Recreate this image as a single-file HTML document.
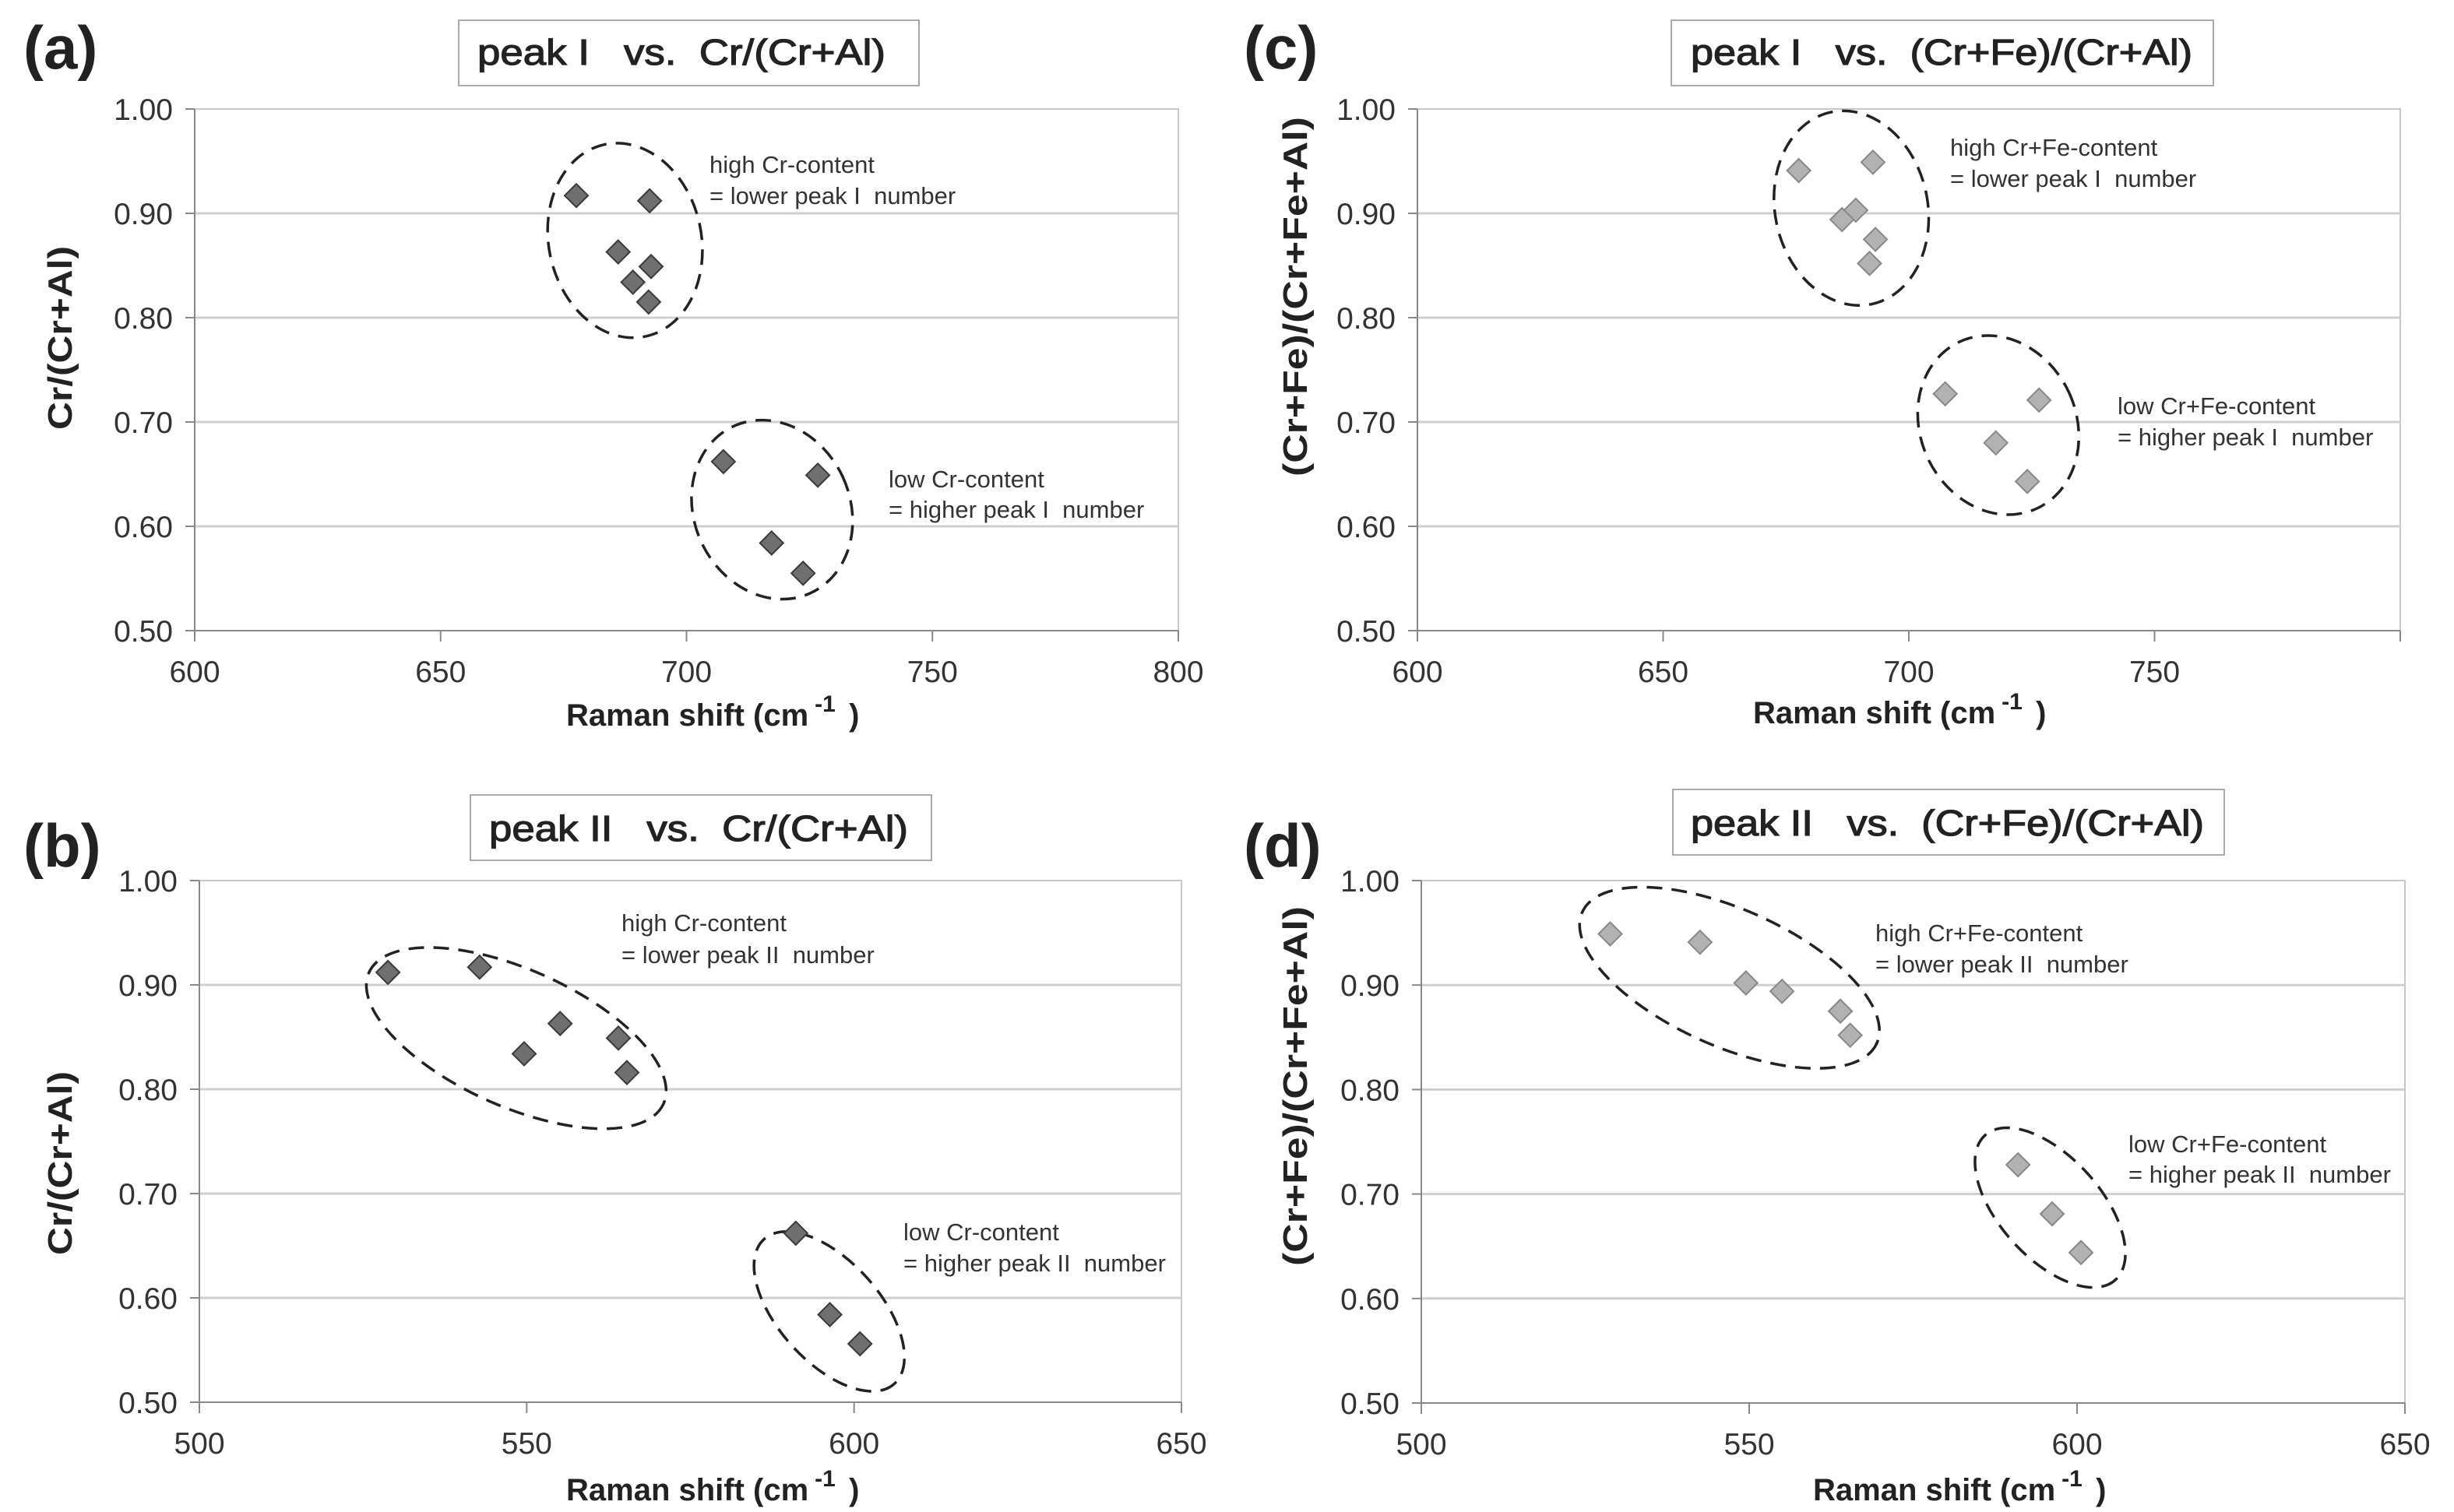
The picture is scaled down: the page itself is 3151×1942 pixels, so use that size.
<!DOCTYPE html>
<html><head><meta charset="utf-8"><style>
html,body{margin:0;padding:0;background:#fff;}
svg{display:block;font-family:"Liberation Sans",sans-serif;}
svg text{white-space:pre;}
</style></head>
<body>
<svg id="fig" width="3151" height="1942" viewBox="0 0 3151 1942" xmlns="http://www.w3.org/2000/svg"></svg>
<script>
// ---- data ----
const yTicks = [0.5, 0.6, 0.7, 0.8, 0.9, 1.0];
const yTickLabels = ["0.50","0.60","0.70","0.80","0.90","1.00"];
const xTicksPeakI = [600, 650, 700, 750, 800];
const xTickLabelsA = ["600","650","700","750","800"];
const xTickLabelsC = ["600","650","700","750",""];
const xTicksPeakII = [500, 550, 600, 650];
const xTickLabelsPeakII = ["500","550","600","650"];

const peakI_A  = [677.6, 692.5, 686.1, 692.8, 689.1, 692.3, 707.5, 726.7, 717.3, 723.7];
const crRatio  = [0.917, 0.912, 0.863, 0.849, 0.834, 0.815, 0.662, 0.649, 0.584, 0.555];
const peakII_B = [528.8, 542.8, 555.1, 564.0, 549.6, 565.3, 591.1, 596.3, 600.9];
const crRatioB = [0.912, 0.917, 0.863, 0.849, 0.834, 0.816, 0.662, 0.584, 0.556];
const peakI_C  = [677.6, 692.7, 689.2, 686.4, 693.2, 692.0, 707.4, 726.5, 717.7, 724.1];
const crFeRatioC = [0.941, 0.949, 0.903, 0.894, 0.875, 0.852, 0.727, 0.721, 0.680, 0.643];
const peakII_D = [528.8, 542.5, 549.5, 555.0, 563.9, 565.4, 591.0, 596.2, 600.6];
const crFeRatioD = [0.949, 0.941, 0.902, 0.894, 0.875, 0.852, 0.728, 0.681, 0.644];

// ---- layout ----
const NS = "http://www.w3.org/2000/svg";
const svg = document.getElementById("fig");
function mk(tag, attrs, parent) {
  const e = document.createElementNS(NS, tag);
  for (const k in attrs) e.setAttribute(k, attrs[k]);
  (parent || svg).appendChild(e);
  return e;
}

const panels = [
  {id:"a", L:250, R:1513, T:140, B:810, xmin:600, xmax:800, xt:xTicksPeakI, xl:xTickLabelsA, xs:peakI_A, ys:crRatio,
   fill:"#6f6f6f", stroke:"#3a3a3a", label:"(a)", lx:30, ly:88,
   box:[589,26,591,84], title:"peak I   vs.  Cr/(Cr+Al)", tx:613, ty:83, tl:524,
   ytitle:"Cr/(Cr+Al)", ytx:92, yty:434, ytl:236,
   xtitle:"Raman shift (cm", xtx:727, xty:932,
   ann:[["high Cr-content","= lower peak I  number",911,222,262],["low Cr-content","= higher peak I  number",1141,626,665]],
   ell:[[687.5,0.874,98,126,-12],[717.4,0.616,100,118,-25]]},
  {id:"b", L:256, R:1517, T:1131, B:1801, xmin:500, xmax:650, xt:xTicksPeakII, xl:xTickLabelsPeakII, xs:peakII_B, ys:crRatioB,
   fill:"#6f6f6f", stroke:"#3a3a3a", label:"(b)", lx:30, ly:1113,
   box:[604,1021,592,84], title:"peak II   vs.  Cr/(Cr+Al)", tx:628, ty:1080, tl:538,
   ytitle:"Cr/(Cr+Al)", ytx:92, yty:1494, ytl:236,
   xtitle:"Raman shift (cm", xtx:727, xty:1927,
   ann:[["high Cr-content","= lower peak II  number",798,1196,1237],["low Cr-content","= higher peak II  number",1160,1593,1633]],
   ell:[[548.4,0.849,207,88,24],[596.2,0.587,125,65,48]]},
  {id:"c", L:1820, R:3082, T:140, B:810, xmin:600, xmax:800, xt:xTicksPeakI, xl:xTickLabelsC, xs:peakI_C, ys:crFeRatioC,
   fill:"#b2b2b2", stroke:"#888", label:"(c)", lx:1597, ly:88,
   box:[2146,26,696,84], title:"peak I   vs.  (Cr+Fe)/(Cr+Al)", tx:2171, ty:83, tl:644,
   ytitle:"(Cr+Fe)/(Cr+Fe+Al)", ytx:1678, yty:381, ytl:462,
   xtitle:"Raman shift (cm", xtx:2251, xty:929,
   ann:[["high Cr+Fe-content","= lower peak I  number",2504,200,240],["low Cr+Fe-content","= higher peak I  number",2719,532,572]],
   ell:[[688.3,0.905,98,126,-12],[718.2,0.697,100,118,-25]]},
  {id:"d", L:1825, R:3088, T:1131, B:1802, xmin:500, xmax:650, xt:xTicksPeakII, xl:xTickLabelsPeakII, xs:peakII_D, ys:crFeRatioD,
   fill:"#b2b2b2", stroke:"#888", label:"(d)", lx:1597, ly:1113,
   box:[2148,1014,708,84], title:"peak II   vs.  (Cr+Fe)/(Cr+Al)", tx:2171, ty:1073, tl:659,
   ytitle:"(Cr+Fe)/(Cr+Fe+Al)", ytx:1678, yty:1395, ytl:462,
   xtitle:"Raman shift (cm", xtx:2328, xty:1927,
   ann:[["high Cr+Fe-content","= lower peak II  number",2408,1209,1249],["low Cr+Fe-content","= higher peak II  number",2733,1480,1519]],
   ell:[[547.0,0.907,207,88,24],[595.9,0.687,125,65,48]]}
];

panels.forEach(p => {
  const g = mk("g", {});
  
  
  const sx = v => p.L + (v - p.xmin) / (p.xmax - p.xmin) * (p.R - p.L);
  const sy = v => p.B - (v - 0.5) / 0.5 * (p.B - p.T);

  const lab = mk("text", {x:p.lx, y:p.ly, "font-size":78, "font-weight":"bold", fill:"#222"}, g);
  lab.textContent = p.label;
  
  

  const tb = mk("rect", {x:p.box[0], y:p.box[1], width:p.box[2], height:p.box[3], fill:"#fff", stroke:"#aaa", "stroke-width":2}, g);
  
  
  const tt = mk("text", {x:p.tx, y:p.ty, "font-size":46, fill:"#222", stroke:"#222", "stroke-width":1.2, textLength:p.tl, lengthAdjust:"spacingAndGlyphs"}, g);
  tt.textContent = p.title;
  
  

  const fr = mk("rect", {x:p.L, y:p.T, width:p.R - p.L, height:p.B - p.T, fill:"none", stroke:"#c8c8c8", "stroke-width":2}, g);
  
  

  yTicks.forEach((v, i) => {
    const y = sy(v);
    if (v > 0.5 && v < 1.0) {
      const gl = mk("line", {x1:p.L, x2:p.R, y1:y, y2:y, stroke:"#cfcfcf", "stroke-width":3}, g);
      
      
    }
    const tk = mk("line", {x1:p.L - 12, x2:p.L, y1:y, y2:y, stroke:"#888", "stroke-width":2}, g);
    
    
    const tl = mk("text", {x:p.L - 28, y:y + 14, "font-size":39, fill:"#333", "text-anchor":"end"}, g);
    tl.textContent = yTickLabels[i];
    
    
  });
  p.xt.forEach((v, i) => {
    const x = sx(v);
    const tk = mk("line", {x1:x, x2:x, y1:p.B, y2:p.B + 14, stroke:"#888", "stroke-width":2}, g);
    
    
    const tl = mk("text", {x:x, y:p.B + 66, "font-size":39, fill:"#333", "text-anchor":"middle"}, g);
    tl.textContent = p.xl[i];
    
    
  });
  const ya = mk("line", {x1:p.L, x2:p.L, y1:p.T, y2:p.B, stroke:"#888", "stroke-width":2}, g);
  
  
  const xa = mk("line", {x1:p.L, x2:p.R, y1:p.B, y2:p.B, stroke:"#888", "stroke-width":2}, g);
  
  

  const yt = mk("text", {x:0, y:0, "font-size":44, "font-weight":"bold", fill:"#222", "text-anchor":"middle",
    textLength:p.ytl, lengthAdjust:"spacingAndGlyphs", transform:`translate(${p.ytx},${p.yty}) rotate(-90)`}, g);
  yt.textContent = p.ytitle;
  
  
  const xt = mk("text", {x:p.xtx, y:p.xty, "font-size":40, "font-weight":"bold", fill:"#222"}, g);
  xt.textContent = p.xtitle;
  
  
  const bb = xt.getComputedTextLength();
  const sup = mk("text", {x:p.xtx + bb + 8, y:p.xty - 18, "font-size":30, "font-weight":"bold", fill:"#222"}, g);
  sup.textContent = "-1";
  
  
  const cp = mk("text", {x:p.xtx + bb + 52, y:p.xty, "font-size":40, "font-weight":"bold", fill:"#222"}, g);
  cp.textContent = ")";
  
  

  p.ell.forEach(e => {
    const cx = sx(e[0]), cy = sy(e[1]);
    const el = mk("ellipse", {cx:cx, cy:cy, rx:e[2], ry:e[3], fill:"none", stroke:"#222", "stroke-width":3.5,
      "stroke-dasharray":"20 12", transform:`rotate(${e[4]} ${cx} ${cy})`}, g);
    
    
  });

  p.xs.forEach((v, i) => {
    const x = sx(v), y = sy(p.ys[i]);
    const d = 15;
    const pt = mk("polygon", {points:`${x},${y - d} ${x + d},${y} ${x},${y + d} ${x - d},${y}`, fill:p.fill, stroke:p.stroke, "stroke-width":2}, g);
    
    
  });

  p.ann.forEach(a => {
    const t1 = mk("text", {x:a[2], y:a[3], "font-size":31, fill:"#333"}, g);
    t1.textContent = a[0];
    
    
    const t2 = mk("text", {x:a[2], y:a[4], "font-size":31, fill:"#333"}, g);
    t2.textContent = a[1];
    
    
  });
});
</script>
</body></html>
